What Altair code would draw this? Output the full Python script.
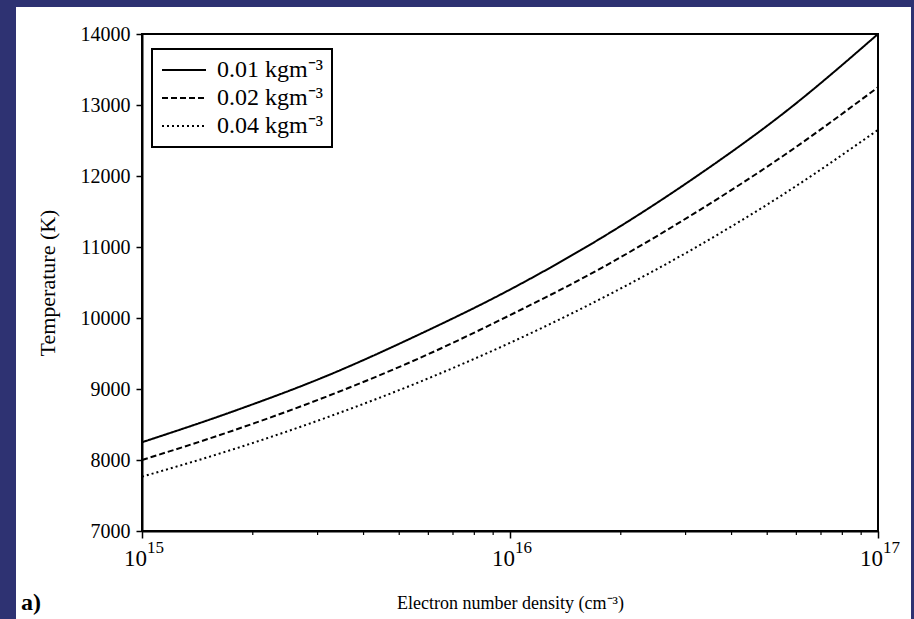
import altair as alt
import pandas as pd

# ---- data ----
density = [1.0e15, 1.78e15, 3.16e15, 5.62e15, 1.0e16, 1.78e16, 3.16e16, 5.62e16, 1.0e17]
temp_001 = [8250, 8690, 9180, 9760, 10400, 11135, 11970, 12910, 14000]
temp_002 = [8000, 8420, 8890, 9425, 10040, 10710, 11470, 12310, 13250]
temp_004 = [7765, 8155, 8595, 9090, 9650, 10280, 10980, 11765, 12650]
series_labels = ["0.01 kgm⁻³", "0.02 kgm⁻³", "0.04 kgm⁻³"]
y_ticks = [7000, 8000, 9000, 10000, 11000, 12000, 13000, 14000]
x_major = [1e15, 1e16, 1e17]
x_major_base = ["10", "10", "10"]
x_major_exp = ["15", "16", "17"]
x_minor = [2e15, 3e15, 4e15, 5e15, 6e15, 7e15, 8e15, 9e15,
           2e16, 3e16, 4e16, 5e16, 6e16, 7e16, 8e16, 9e16]

rows = []
for lab, temps in zip(series_labels, [temp_001, temp_002, temp_004]):
    for d, t in zip(density, temps):
        rows.append({"density": d, "temp": t, "series": lab})
df = pd.DataFrame(rows)
minor_df = pd.DataFrame({"density": x_minor})
major_df = pd.DataFrame({"density": x_major, "base": x_major_base, "exp": x_major_exp})
one = pd.DataFrame({"a": [0]})

W, H = 736, 497
FONT = "Liberation Serif"

xscale = alt.Scale(type="log", domain=[1e15, 1e17], nice=False)
x_axis = alt.Axis(values=x_major, labels=False, zindex=2,
                  title="Electron number density (cm⁻³)",
                  titleY=72, titleBaseline="middle",
                  titleFontSize=18, tickSize=7)

panel = alt.Chart(one).mark_rect(color="white").encode(
    x=alt.value(-126), x2=alt.value(769), y=alt.value(-27), y2=alt.value(600)
)

frame = alt.Chart(one).mark_rect(fillOpacity=0, stroke="black", strokeWidth=2).encode(
    x=alt.value(0), x2=alt.value(W), y=alt.value(0), y2=alt.value(H)
)

lines = alt.Chart(df).mark_line(color="black", strokeWidth=2, interpolate="monotone").encode(
    x=alt.X("density:Q", scale=xscale, axis=x_axis),
    y=alt.Y("temp:Q", scale=alt.Scale(domain=[7000, 14000], nice=False, zero=False),
            axis=alt.Axis(values=y_ticks, format="d", title="Temperature (K)", zindex=2,
                          titlePadding=21, titleFontSize=22, tickSize=6, labelPadding=6,
                          labelFontSize=20)),
    strokeDash=alt.StrokeDash(
        "series:N",
        scale=alt.Scale(domain=series_labels, range=[[1, 0], [6, 3], [2, 3]]),
        legend=alt.Legend(title=None),
    ),
)

minor = alt.Chart(minor_df).mark_rule(color="black", strokeWidth=1.2).encode(
    x=alt.X("density:Q", scale=xscale, axis=x_axis),
    y=alt.value(H), y2=alt.value(H + 4),
)

tick_base = alt.Chart(major_df).mark_text(
    font=FONT, fontSize=23, align="right", baseline="alphabetic", color="black", dx=5
).encode(
    x=alt.X("density:Q", scale=xscale, axis=x_axis),
    y=alt.value(H + 35),
    text="base:N",
)

tick_exp = alt.Chart(major_df).mark_text(
    font=FONT, fontSize=17, align="left", baseline="alphabetic", color="black", dx=5
).encode(
    x=alt.X("density:Q", scale=xscale, axis=x_axis),
    y=alt.value(H + 22),
    text="exp:N",
)

label_a = alt.Chart(one).mark_text(text="a)", font=FONT, fontSize=24, fontWeight="bold",
                                   align="left", baseline="middle", color="black").encode(
    x=alt.value(-121), y=alt.value(569)
)

chart = alt.layer(panel, frame, lines, minor, tick_base, tick_exp, label_a).properties(
    width=W, height=H,
    background="#2e3272",
    padding={"left": 142, "top": 34, "right": 36, "bottom": 88},
    autosize=alt.AutoSizeParams(type="none"),
).configure_view(strokeWidth=0).configure_axis(
    grid=False,
    domainColor="black", domainWidth=2,
    tickColor="black", tickWidth=1.5,
    labelFont=FONT, labelFontSize=19, labelColor="black",
    titleFont=FONT, titleFontSize=19, titleFontWeight="normal", titleColor="black",
).configure_legend(
    orient="none", legendX=10, legendY=15,
    strokeColor="black", strokeWidth=2, fillColor="white", padding=9,
    labelFont=FONT, labelFontSize=24, labelColor="black", labelOffset=32,
    symbolType="M-1,0H3", symbolSize=484, symbolStrokeWidth=2,
    symbolStrokeColor="black", rowPadding=4,
)

chart.save("out.html", embed_options={"renderer": "svg", "actions": False})
